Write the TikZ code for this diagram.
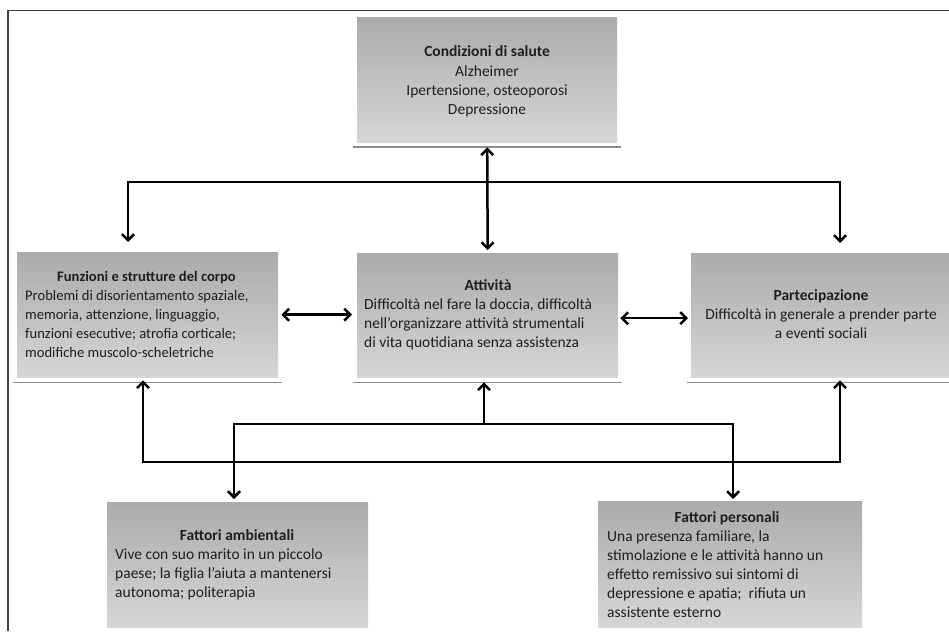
\documentclass[tikz,border=0pt]{standalone}
\usepackage{fontspec}
\setmainfont{Carlito}
\usetikzlibrary{arrows.meta}
\begin{document}
\begin{tikzpicture}[x=1pt,y=-1pt,
  box/.style={draw=none, top color=black!33, bottom color=black!16, inner sep=0, anchor=north west},
  shadowline/.style={draw=black!45, line width=1.8pt},
  ln/.style={draw=black, line width=2.5pt, line join=miter},
  arr/.style={ln, -{Straight Barb[length=6pt,width=12pt]}},
  arrtwo/.style={ln, {Straight Barb[length=6pt,width=12pt]}-{Straight Barb[length=6pt,width=12pt]}},
  ttl/.style={font=\fontsize{15.5}{19}\selectfont\bfseries, inner sep=0, anchor=base, text=black!88},
  body/.style={font=\fontsize{15.5}{19}\selectfont, inner sep=0, anchor=north west, align=left, text=black!88},
  bodyc/.style={body, anchor=north, align=center},
  frame/.style={draw=black!75, line width=1.6pt}
]
\useasboundingbox (0,0) rectangle (949,631);
\fill[white] (0,0) rectangle (949,631);
\draw[frame] (8,631) -- (8,10.5) -- (949,10.5);

% boxes
\node[box, minimum width=260, minimum height=125] (cond) at (357,17) {};
\node[box, minimum width=261, minimum height=125] (funz) at (17,252) {};
\node[box, minimum width=261, minimum height=124] (att) at (357,253) {};
\node[box, minimum width=258, minimum height=124] (part) at (691,253) {};
\node[box, minimum width=261, minimum height=125] (amb) at (107,502) {};
\node[box, minimum width=264, minimum height=126] (pers) at (598,501) {};

% shadows
\foreach \b in {cond,funz,att,part}{
  \draw[shadowline] ([xshift=-4pt,yshift=-5pt]\b.south west) -- ([xshift=4pt,yshift=-5pt]\b.south east);
}

% texts
\node[ttl] (condt) at (487,57) {Condizioni di salute};
\node[bodyc] (condb) at (487,62.7) {\strut Alzheimer\\Ipertensione, osteoporosi\\Depressione};

\node[ttl, font=\fontsize{14.6}{19}\selectfont\bfseries] (funzt) at (146.5,281) {Funzioni e strutture del corpo};
\node[body, font=\fontsize{14.6}{19}\selectfont] (funzb) at (25,286.7) {\strut Problemi di disorientamento spaziale,\\memoria, attenzione, linguaggio,\\funzioni esecutive; atrofia corticale;\\modifiche muscolo-scheletriche};

\node[ttl] (attt) at (488,290) {Attività};
\node[body] (attb) at (364,295.7) {\strut Difficoltà nel fare la doccia, difficoltà\\nell’organizzare attività strumentali\\di vita quotidiana senza assistenza};

\node[ttl] (partt) at (821,300) {Partecipazione};
\node[bodyc] (partb) at (821,305.7) {\strut Difficoltà in generale a prender parte\\a eventi sociali};

\node[ttl] (ambt) at (237,540) {Fattori ambientali};
\node[body] (ambb) at (115,545.7) {\strut Vive con suo marito in un piccolo\\paese; la figlia l’aiuta a mantenersi\\autonoma; politerapia};

\node[ttl] (perst) at (727,522) {Fattori personali};
\node[body] (persb) at (607,527.7) {\strut Una presenza familiare, la\\stimolazione e le attività hanno un\\effetto remissivo sui sintomi di\\depressione e apatia;\ \ rifiuta un\\assistente esterno};

% connectors top
\coordinate (tl) at (128,182);
\coordinate (tr) at (840,182);
\draw[arrtwo, shorten <=10pt, shorten >=10pt] (tl |- funz.north) -- (tl) -- (tr) -- (tr |- part.north);
\draw[arrtwo, shorten <=0pt, shorten >=3pt] ([yshift=-5pt]cond.south) -- (att.north);

% horizontal double arrows
\draw[arrtwo, shorten <=3pt, shorten >=5pt] (funz.east) -- (funz.east -| att.west);
\draw[arrtwo, shorten <=2pt, shorten >=3pt] ([yshift=-3pt]att.east) -- ([yshift=-3pt]part.west);

% connectors bottom
\coordinate (bl) at (143,462);
\coordinate (br) at (840,462);
\draw[arrtwo, shorten <=3pt, shorten >=3pt] (bl |- funz.south) -- (bl) -- (br) -- (br |- part.south);
\coordinate (ml) at (234,424);
\coordinate (mr) at (733,424);
\coordinate (mm) at (484,424);
\draw[arrtwo, shorten <=3pt, shorten >=2pt] (ml |- amb.north) -- (ml) -- (mr) -- (mr |- pers.north);
\draw[arr, shorten >=5pt] (mm) -- (mm |- att.south);
\end{tikzpicture}
\end{document}
